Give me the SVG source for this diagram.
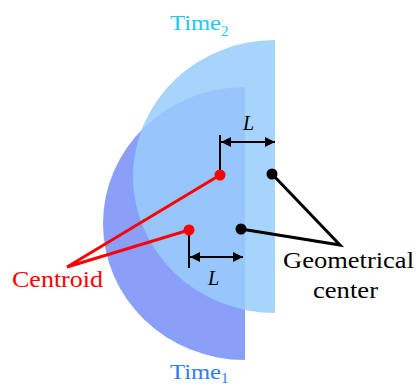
<svg xmlns="http://www.w3.org/2000/svg" width="416" height="387" viewBox="0 0 416 387">
<style>
text{font-family:"Liberation Serif","Noto Serif","DejaVu Serif",serif}
.lab{font-size:24px}
.dim{stroke:#000;stroke-width:2;fill:none}
.red{stroke:#ff0000;stroke-width:3;fill:none}
.blk{stroke:#000;stroke-width:3;fill:none}
.L{font-style:italic;font-size:20px;fill:#000}
</style>
<defs>
<marker id="ah" viewBox="0 0 10 10" refX="10" refY="5" markerWidth="10" markerHeight="10" markerUnits="userSpaceOnUse" orient="auto-start-reverse">
<path d="M0,0 L10,5 L0,10 Z" fill="#000"/>
</marker>
</defs>
<rect width="416" height="387" fill="#fff"/>
<g id="time1">
<path d="M245,87 A142,136.5 0 0,0 245,360 Z" fill="#8aa0f8"/>
</g>
<g id="time2">
<path d="M275,40 A142,136.5 0 0,0 275,313 Z" fill="#98ccfc" fill-opacity="0.85"/>
</g>
<g id="connectors">
<path class="dim" d="M220,135 V175"/>
<path class="dim" d="M221,142 H275" marker-start="url(#ah)" marker-end="url(#ah)"/>
<path class="dim" d="M189,230 V268"/>
<path class="dim" d="M190,257 H243" marker-start="url(#ah)" marker-end="url(#ah)"/>
<path class="red" d="M220,175 L67,267 L189,230"/>
<path class="blk" d="M272,174 L340,245 L241,229"/>
</g>
<g id="centroid1"><circle cx="220" cy="175" r="5.5" fill="#ff0000"/></g>
<g id="centroid2"><circle cx="189" cy="230" r="5.5" fill="#ff0000"/></g>
<g id="geom1"><circle cx="272" cy="174" r="5.5" fill="#000"/></g>
<g id="geom2"><circle cx="241" cy="229" r="5.5" fill="#000"/></g>
<g id="label-time2"><text x="170" y="30" font-size="22" fill="#1ec8f0"><tspan textLength="51" lengthAdjust="spacingAndGlyphs">Time</tspan><tspan font-size="15" dy="6">2</tspan></text></g>
<g id="label-time1"><text x="170" y="379" font-size="22" fill="#2d7cf2"><tspan textLength="51" lengthAdjust="spacingAndGlyphs">Time</tspan><tspan font-size="15" dy="4">1</tspan></text></g>
<g id="label-centroid"><text class="lab" x="12" y="287" fill="#ff0000" textLength="91" lengthAdjust="spacingAndGlyphs">Centroid</text></g>
<g id="label-geom"><text class="lab" x="283" y="268" fill="#000" textLength="131" lengthAdjust="spacingAndGlyphs">Geometrical</text><text class="lab" x="313" y="298" fill="#000" textLength="65" lengthAdjust="spacingAndGlyphs">center</text></g>
<g id="label-L1"><text class="L" x="243" y="130">L</text></g>
<g id="label-L2"><text class="L" x="208" y="285">L</text></g>
</svg>
